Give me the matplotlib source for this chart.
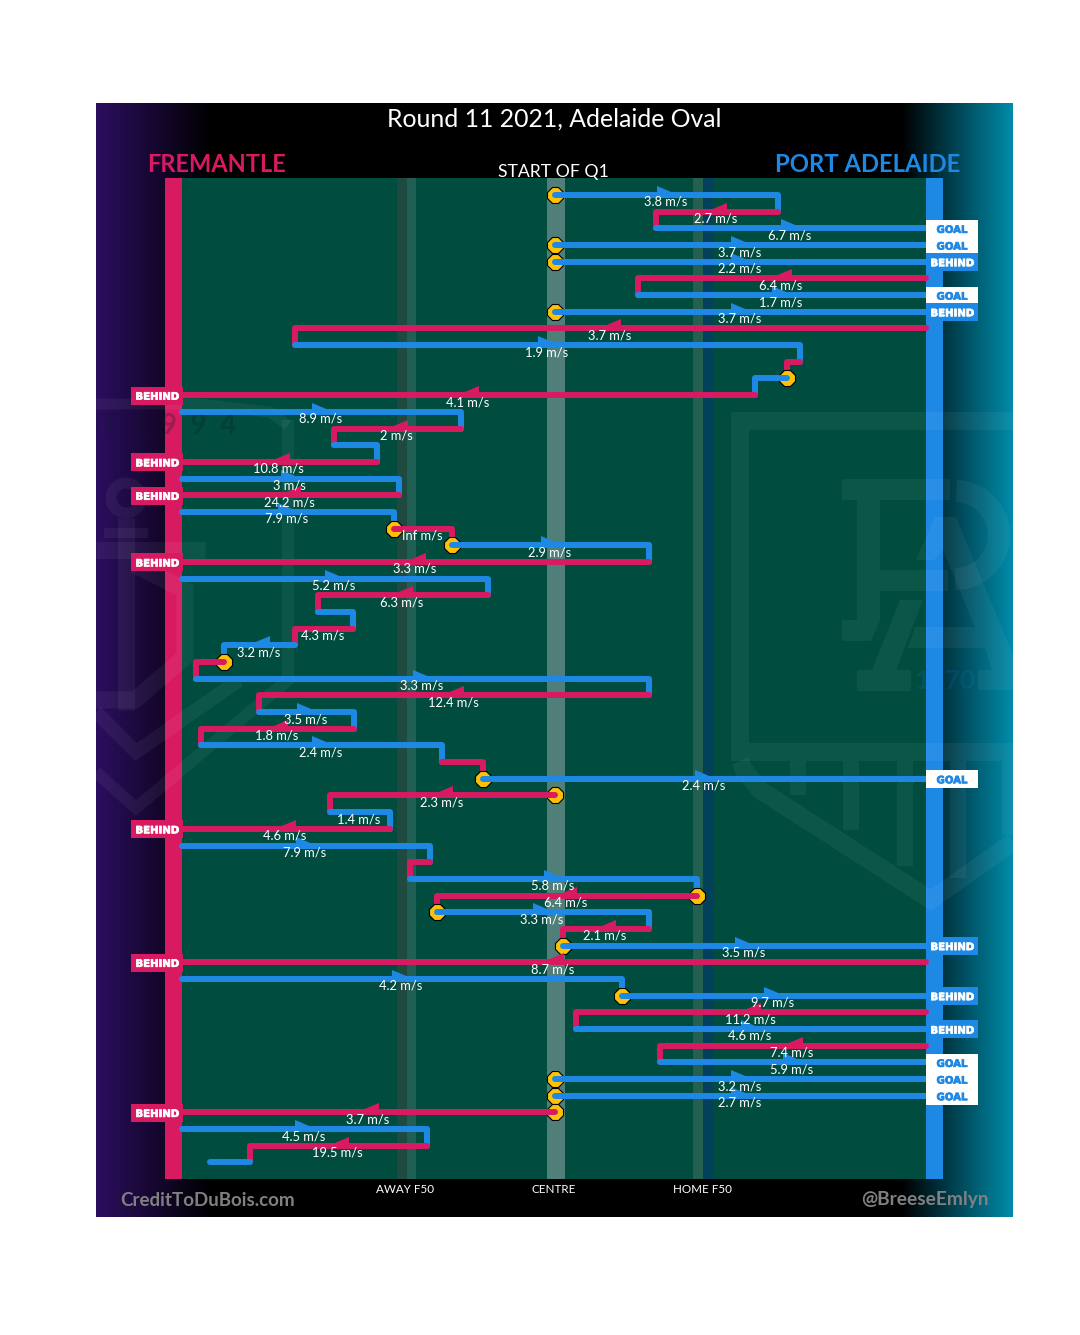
import numpy as np
import matplotlib
matplotlib.use("Agg")
import matplotlib.pyplot as plt
import matplotlib.patheffects as pe
from matplotlib.patches import Rectangle, Polygon, Arc

# ---- data: one entry per row of the chain, ground position 0 = centre, -373 / +371 = goal lines
LEFT_GOAL, RIGHT_GOAL = -373, 371
teams = ["P","F","P","P","P","F","P","P","F","P","F","P","F","P","F","P","F","P","F","P",
         "F","P","F","P","F","P","F","P","F","P","F","P","F","P","F","P","F","P","F","P",
         "F","P","F","P","F","P","F","P","P","F","P","F","P","P","P","F","P","F","P"]
x_start = [0,223,101,0,0,371,83,0,371,-260,245,232,200,-373,-94,-221,-178,-373,-156,-373,
           -161,-103,94,-373,-67,-237,-202,-260,-331,-359,94,-296,-201,-354,-113,-72,0,-225,-165,-373,
           -125,-145,142,-118,94,8,371,-373,67,371,21,371,105,0,0,0,-373,-128,-305]
x_end =   [223,101,371,371,371,83,371,371,-260,245,232,200,-373,-94,-221,-178,-373,-156,-373,-161,
           -103,94,-373,-67,-237,-202,-260,-331,-359,94,-296,-201,-354,-113,-72,371,-225,-165,-373,-125,
           -145,142,-118,94,8,371,-373,67,371,21,371,105,371,371,371,-373,-128,-305,-345]
speeds = ["3.8","2.7","6.7","3.7","2.2","6.4","1.7","3.7","3.7","1.9","","","4.1","8.9","2","","10.8","3","24.2","7.9",
          "Inf","2.9","3.3","5.2","6.3","","4.3","3.2","","3.3","12.4","3.5","1.8","2.4","","2.4","2.3","1.4","4.6","7.9",
          "","5.8","6.4","3.3","2.1","3.5","8.7","4.2","9.7","11.2","4.6","7.4","5.9","3.2","2.7","3.7","4.5","19.5",""]
ball_rows = [0,3,4,7,11,20,21,28,35,36,42,43,45,48,53,54,55]
left_behind_rows = [12,16,18,22,38,46,55]
right_goal_rows = [2,3,6,35,52,53,54]
right_behind_rows = [4,7,45,48,50]
field_labels = ["AWAY F50","CENTRE","HOME F50"]
field_label_pos = [-150,-1,147]

PINK, BLUE, FIELD, BALL = "#D81B60", "#1E88E5", "#004D40", "#FFC107"
FONT = "Lato"
ROW = 16.68
W, H = 1080, 1335

fig = plt.figure(figsize=(W/100, H/100), dpi=100, facecolor="white")
ax = fig.add_axes([0, 0, 1, 1])
def ux(px): return px - 555
def ry(py): return (py - 195) / ROW
ax.set_xlim(ux(0), ux(W)); ax.set_ylim(ry(H), ry(0)); ax.axis("off")

def rect(x0, x1, y0, y1, color, z, alpha=None):
    ax.add_patch(Rectangle((ux(x0), ry(y0)), x1-x0, ry(y1)-ry(y0), fc=color, ec="none", zorder=z, alpha=alpha))

# background gradient
xs = np.arange(96, 1013) + 0.5
g = np.zeros((1, xs.size, 3))
lc, rc = np.array([0x2c,0x0e,0x60])/255, np.array([0x00,0x8c,0xab])/255
lt = np.clip((212 - xs) / 116, 0, 1)[None, :, None]
rt = np.clip((xs - 902) / 111, 0, 1)[None, :, None]
g = g + lt*lc + rt*rc
ax.imshow(g, extent=(ux(96), ux(1013), ry(1217), ry(104)), aspect="auto", zorder=0, interpolation="bilinear")
ax.set_xlim(ux(0), ux(W)); ax.set_ylim(ry(H), ry(0))
clip = Rectangle((ux(96), ry(104)), 917, ry(1217)-ry(104), transform=ax.transData, fc="none", ec="none")
ax.add_patch(clip)

# field
rect(182, 926, 178, 1179, FIELD, 1)
rect(547, 565, 178, 1179, "#4F7F78", 1.1)
rect(396.5, 406.5, 178, 1179, "#1E4A40", 1.1)
rect(406.5, 416, 178, 1179, "#1F5F55", 1.1)
rect(693, 703, 178, 1179, "#24604F", 1.1)
rect(703, 713, 178, 1179, "#03405A", 1.1)
rect(165, 182, 178, 1179, PINK, 1.2)
rect(926, 943, 178, 1179, BLUE, 1.2)

# faint club logos
WM = dict(color="white", alpha=0.05, solid_capstyle="butt", solid_joinstyle="miter", zorder=2)
def stroke(pts, wpx, **kw):
    p = np.array(pts, float)
    opts = dict(WM); opts.update(kw)
    l, = ax.plot(ux(p[:, 0]), ry(p[:, 1]), lw=wpx*0.72, **opts)
    l.set_clip_path(clip)
def poly(pts, **kw):
    p = np.array(pts, float)
    a = Polygon(np.c_[ux(p[:, 0]), ry(p[:, 1])], fc="white", ec="none", alpha=0.05, zorder=2, **kw)
    ax.add_patch(a); a.set_clip_path(clip)

# Port Adelaide crest
stroke([(1013,421),(740,421),(740,752),(1013,752)], 18)
stroke([(740,761),(744,770),(760,790),(931,900),(1013,842)], 18)
for sx, sb in [(798,795),(851,830),(905,866),(958,878)]:
    stroke([(sx,761),(sx,sb)], 16)
stroke([(1010,761),(1010,835)], 16)
poly([(842,479),(950,479),(950,500),(880,500),(880,570),(948,570),(948,591),(880,591),(880,620),(871,641),(842,641),(842,620),(857,620),(857,500),(842,500)])
poly([(935,517),(956,517),(1013,655),(1013,690),(978,690),(978,670),(992,670),(985,648),(908,648),(915,627),(975,627),(943,550),(934,560),(916,560)])
poly([(900,600),(923,600),(896,670),(911,670),(911,691),(857,691),(857,670),(872,670)])
a = Arc((ux(955), ry(535)), 88, (ry(579)-ry(491)), theta1=-62, theta2=90, color="white", lw=16, alpha=0.05, zorder=2)
ax.add_patch(a); a.set_clip_path(clip)
ax.text(ux(945), ry(681), "1870", color="#1E88E5", alpha=0.13, fontsize=19, fontweight="bold", ha="center", va="center", family=FONT, zorder=2)

# Fremantle crest
stroke([(96,772),(136,808),(288,680),(288,420)], 12)
stroke([(96,712),(136,752),(239,680)], 14)
stroke([(96,550),(205,550)], 17)
stroke([(135,565),(185,590),(185,657),(135,700),(96,700)], 17)
stroke([(96,404),(200,404),(270,412),(288,425)], 11)
stroke([(126,518),(126,710)], 17)
stroke([(104,533),(148,533)], 10)
th = np.linspace(0, 2*np.pi, 80)
stroke(np.c_[126+15*np.cos(th), 498+15*np.sin(th)], 11)
t = ax.text(ux(236), ry(426), "EST. 1  9  9  4", color="#0A1C2A", alpha=0.28, fontsize=20, fontweight="bold", ha="right", va="center",
            family=FONT, zorder=2)
t.set_clip_path(clip); t.set_clip_on(True)

# chains
def ball(x, r):
    ax.plot([x-0.5], [r], marker="8", ms=12.2, mfc=BALL, mec="black", mew=0.8, ls="none", zorder=9+2*r)

n = len(teams)
for i in range(n):
    c = PINK if teams[i] == "F" else BLUE
    x0, x1 = x_start[i], x_end[i]
    if i in ball_rows:
        ball(x0, i)
    px, py = [x0, x1], [i, i]
    if i + 1 < n and x_start[i+1] == x1 and x1 not in (LEFT_GOAL, RIGHT_GOAL):
        px.append(x1); py.append(i+1)
    ax.plot(px, py, color=c, lw=4.3, solid_capstyle="round", solid_joinstyle="round", zorder=10+2*i)
    mid = (x0 + x1) / 2
    d = 1 if x1 > x0 else -1
    if abs(x1 - x0) >= 65:
        ax.add_patch(Polygon([(mid-10*d, i-9/ROW), (mid-10*d, i+2/ROW), (mid+9*d, i+2/ROW), (mid+9*d, i-1/ROW)],
                             fc=c, ec="none", zorder=10+2*i))
    if speeds[i]:
        ax.text(mid-1, i + 7/ROW, f"{speeds[i]} m/s", color="white", fontsize=9.3, ha="center", va="center",
                family=FONT, zorder=300)

# badges
def badge(x0, x1, r, txt, bg, fg):
    ax.add_patch(Rectangle((ux(x0), r-8.5/ROW), x1-x0, 18/ROW, fc=bg, ec="none", zorder=200))
    ax.text(ux((x0+x1)/2), r+1.5/ROW, txt, color=fg, fontsize=7.3, fontweight="bold", ha="center", va="center",
            family="DejaVu Sans", zorder=301, path_effects=[pe.withStroke(linewidth=0.5, foreground=fg)])
for r in left_behind_rows:
    badge(131, 183, r, "BEHIND", PINK, "white")
for r in right_goal_rows:
    badge(926, 978, r, "GOAL", "white", BLUE)
for r in right_behind_rows:
    badge(926, 978, r, "BEHIND", BLUE, "white")

# titles
def label(x, y, s, **kw):
    kw.setdefault("family", FONT); kw.setdefault("ha", "center"); kw.setdefault("va", "center"); kw.setdefault("color", "white")
    ax.text(ux(x), ry(y), s, zorder=310, **kw)
label(554, 119, "Round 11 2021, Adelaide Oval", fontsize=17.8)
label(553, 172, "START OF Q1", fontsize=12.7)
label(216, 165, "FREMANTLE", fontsize=17, color=PINK, fontweight="bold")
label(868, 165, "PORT ADELAIDE", fontsize=17.2, color=BLUE, fontweight="bold")
for s, p in zip(field_labels, field_label_pos):
    ax.text(p, ry(1189.5), s, color="white", fontsize=8.4, ha="center", va="center", family=FONT, zorder=310)
label(208, 1200, "CreditToDuBois.com", fontsize=13.5, color="#808080", fontweight="bold")
label(924.5, 1200, "@BreeseEmlyn", fontsize=13.8, color="#808080", fontweight="bold")

fig.savefig("out.png", dpi=100, facecolor="white")
